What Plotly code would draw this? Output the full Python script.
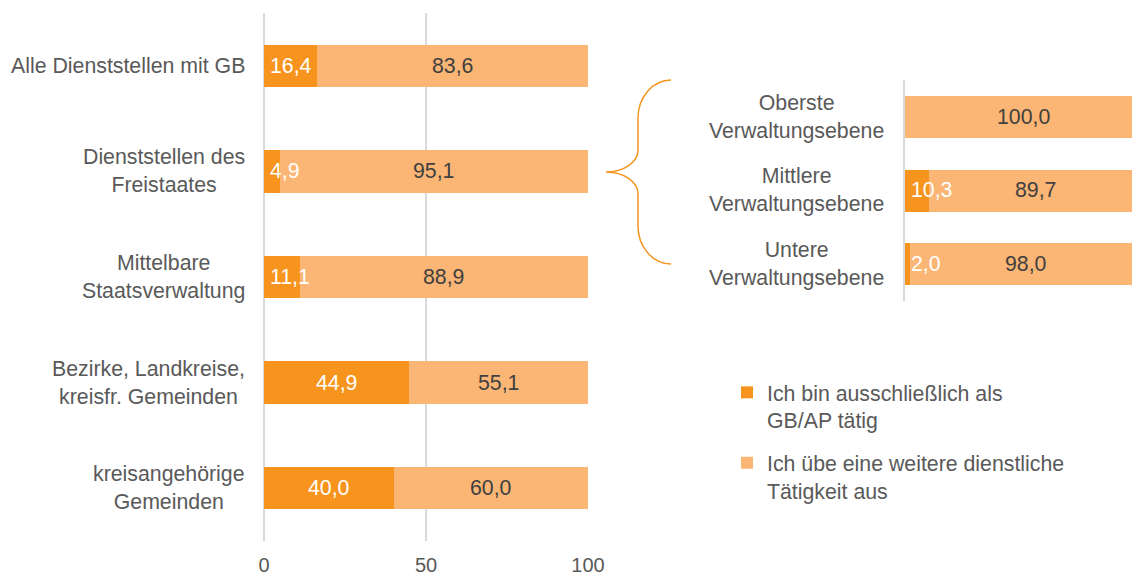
import plotly.graph_objects as go

# --- data -------------------------------------------------------------
main_categories = [
    "Alle Dienststellen mit GB",
    "Dienststellen des<br>Freistaates",
    "Mittelbare<br>Staatsverwaltung",
    "Bezirke, Landkreise,<br>kreisfr. Gemeinden",
    "kreisangehörige<br>Gemeinden",
]
main_only_gb = [16.4, 4.9, 11.1, 44.9, 40.0]
main_other = [83.6, 95.1, 88.9, 55.1, 60.0]

sub_categories = [
    "Oberste<br>Verwaltungsebene",
    "Mittlere<br>Verwaltungsebene",
    "Untere<br>Verwaltungsebene",
]
sub_only_gb = [0.0, 10.3, 2.0]
sub_other = [100.0, 89.7, 98.0]

series_names = [
    "Ich bin ausschließlich als<br>GB/AP tätig",
    "Ich übe eine weitere dienstliche<br>Tätigkeit aus",
]
x_ticks = [0, 50, 100]

# --- styling ----------------------------------------------------------
W, H = 1132, 577
DARK = "#F7941D"
LIGHT = "#FBB574"
GRID = "#D9D9D9"
TEXT = "#595959"
VALUE_DARK = "#404040"
FONT = "Liberation Sans, Arial, sans-serif"
FS = 21.3      # labels, values, legend
FS_TICK = 20   # axis numbers


def px_x(p):
    return p / W


def px_y(p):
    return 1 - p / H


def fmt(v):
    return f"{v:.1f}".replace(".", ",")


fig = go.Figure()

# main chart (x / y)
fig.add_trace(go.Bar(
    y=list(range(len(main_categories))), x=main_only_gb, orientation="h",
    name=series_names[0], marker=dict(color=DARK, line=dict(width=0)),
    width=0.4, legendgroup="a", xaxis="x", yaxis="y", hoverinfo="skip",
))
fig.add_trace(go.Bar(
    y=list(range(len(main_categories))), x=main_other, orientation="h",
    name=series_names[1], marker=dict(color=LIGHT, line=dict(width=0)),
    width=0.4, legendgroup="b", xaxis="x", yaxis="y", hoverinfo="skip",
))

# breakdown chart (x2 / y2)
fig.add_trace(go.Bar(
    y=list(range(len(sub_categories))), x=sub_only_gb, orientation="h",
    name=series_names[0], marker=dict(color=DARK, line=dict(width=0)),
    width=0.57, showlegend=False, xaxis="x2", yaxis="y2", hoverinfo="skip",
))
fig.add_trace(go.Bar(
    y=list(range(len(sub_categories))), x=sub_other, orientation="h",
    name=series_names[1], marker=dict(color=LIGHT, line=dict(width=0)),
    width=0.57, showlegend=False, xaxis="x2", yaxis="y2", hoverinfo="skip",
))

annotations = []


def value_labels(dark_vals, light_vals, xref, yref):
    for i, (d, l) in enumerate(zip(dark_vals, light_vals)):
        if d > 0:
            narrow = d < 12
            annotations.append(dict(
                x=0 if narrow else d / 2, y=i, xref=xref, yref=yref,
                text=fmt(d), showarrow=False,
                xanchor="left" if narrow else "center",
                xshift=4 if narrow else 0,
                font=dict(family=FONT, size=FS, color="white"),
            ))
        if l > 0:
            annotations.append(dict(
                x=d + l / 2, y=i, xref=xref, yref=yref, text=fmt(l),
                showarrow=False, xanchor="center",
                font=dict(family=FONT, size=FS, color=VALUE_DARK),
            ))


value_labels(main_only_gb, main_other, "x", "y")
value_labels(sub_only_gb, sub_other, "x2", "y2")

# category labels: right aligned block, centred lines
for i, c in enumerate(main_categories):
    annotations.append(dict(
        x=px_x(247), y=i, xref="paper", yref="y", text=c, showarrow=False,
        xanchor="right", align="center",
        font=dict(family=FONT, size=FS, color=TEXT),
    ))
for i, c in enumerate(sub_categories):
    annotations.append(dict(
        x=px_x(886), y=i, xref="paper", yref="y2", text=c, showarrow=False,
        xanchor="right", align="center",
        font=dict(family=FONT, size=FS, color=TEXT),
    ))

# curly brace linking "Dienststellen des Freistaates" to its breakdown
k = 0.552
top, tip, bot = 80, 172, 264
xe, xm, xt = 671, 638, 606
r1, r2 = 38, 22
pts = [
    (xe, top), (xe - (xe - xm) * k, top), (xm, top + r1 - r1 * k), (xm, top + r1),
    (xm, tip - r2),
    (xm, tip - r2 + r2 * k), (xt + (xm - xt) * k, tip), (xt, tip),
    (xt + (xm - xt) * k, tip), (xm, tip + r2 - r2 * k), (xm, tip + r2),
    (xm, bot - r1),
    (xm, bot - r1 + r1 * k), (xe - (xe - xm) * k, bot), (xe, bot),
]
P = [f"{px_x(a):.5f},{px_y(b):.5f}" for a, b in pts]
brace = (f"M {P[0]} C {P[1]} {P[2]} {P[3]} L {P[4]} C {P[5]} {P[6]} {P[7]} "
         f"C {P[8]} {P[9]} {P[10]} L {P[11]} C {P[12]} {P[13]} {P[14]}")

fig.update_layout(
    width=W, height=H,
    margin=dict(l=0, r=0, t=0, b=0, autoexpand=False),
    paper_bgcolor="white", plot_bgcolor="white",
    barmode="stack",
    font=dict(family=FONT, size=FS, color=TEXT),
    xaxis=dict(
        domain=[px_x(264), px_x(588)], range=[0, 100], tickvals=x_ticks,
        showgrid=True, gridcolor=GRID, gridwidth=2,
        zeroline=True, zerolinecolor=GRID, zerolinewidth=2,
        showline=False, ticks="", ticklabelstandoff=10, automargin=False,
        tickfont=dict(family=FONT, size=FS_TICK, color=TEXT), anchor="y",
    ),
    yaxis=dict(
        domain=[px_y(541), px_y(13)], range=[len(main_categories) - 0.5, -0.5],
        showticklabels=False, showgrid=False, zeroline=False, showline=False,
        automargin=False, anchor="x",
    ),
    xaxis2=dict(
        domain=[px_x(905), 1], range=[0, 95.8], showticklabels=False,
        showgrid=False, zeroline=False, showline=False, ticks="",
        automargin=False, anchor="y2",
    ),
    yaxis2=dict(
        domain=[px_y(301), px_y(80)], range=[len(sub_categories) - 0.5, -0.5],
        showticklabels=False, showgrid=False, zeroline=False,
        showline=True, linecolor=GRID, linewidth=2, automargin=False,
        anchor="x2",
    ),
    legend=dict(
        x=px_x(727), y=px_y(372), xanchor="left", yanchor="top",
        valign="top", tracegroupgap=12, itemwidth=30,
        font=dict(family=FONT, size=FS, color=TEXT),
        bgcolor="rgba(0,0,0,0)",
    ),
    shapes=[dict(type="path", path=brace, xref="paper", yref="paper",
                 line=dict(color=DARK, width=1.5))],
    annotations=annotations,
)

fig.write_html("out.html")
